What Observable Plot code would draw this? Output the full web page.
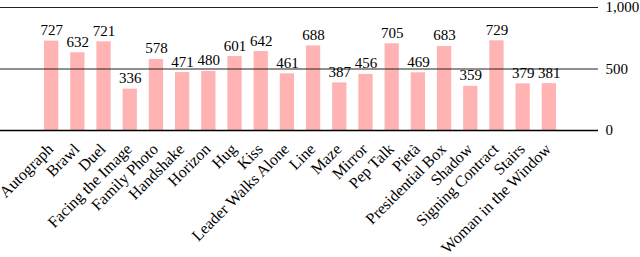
<!DOCTYPE html>
<html>
<head>
<meta charset="utf-8">
<script src="https://cdn.jsdelivr.net/npm/d3@7"></script>
<script src="https://cdn.jsdelivr.net/npm/@observablehq/plot@0.6"></script>
<style>
  html, body { margin: 0; padding: 0; background: #fff; }
</style>
</head>
<body>
<div id="chart"></div>
<script>
const categories = ["Autograph", "Brawl", "Duel", "Facing the Image", "Family Photo", "Handshake", "Horizon", "Hug", "Kiss", "Leader Walks Alone", "Line", "Maze", "Mirror", "Pep Talk", "Pietà", "Presidential Box", "Shadow", "Signing Contract", "Stairs", "Woman in the Window"];
const values = [727, 632, 721, 336, 578, 471, 480, 601, 642, 461, 688, 387, 456, 705, 469, 683, 359, 729, 379, 381];
const yTicks = [0, 500, 1000];

const data = categories.map((c, i) => ({category: c, value: values[i]}));

const chart = Plot.plot({
  width: 640,
  height: 257,
  marginTop: 7,
  marginBottom: 127,
  marginLeft: 0,
  marginRight: 42,
  style: {fontFamily: "'Liberation Serif', serif", fontSize: "15px", background: "#fff", color: "#000"},
  x: {domain: categories, range: [44, 556], paddingInner: 0.455, paddingOuter: 0, round: false, label: null},
  y: {domain: [0, 1000], label: null},
  marks: [
    Plot.barY(data, {x: "category", y: "value", fill: "#ffb3b3"}),
    Plot.ruleY(yTicks.filter(d => d !== 0), {stroke: "#222", strokeWidth: 1}),
    Plot.ruleY([0], {stroke: "#000", strokeWidth: 1.3}),
    Plot.text(data, {x: "category", y: "value", text: d => String(d.value), lineAnchor: "bottom", dy: -6, fill: "#000"}),
    Plot.axisY({anchor: "right", ticks: yTicks, tickSize: 0, tickPadding: 7, tickFormat: d3.format(","), label: null}),
    Plot.axisX({tickRotate: -45, tickSize: 0, tickPadding: 16, dx: -1, fontSize: 16, label: null})
  ]
});
document.getElementById("chart").appendChild(chart);
</script>
</body>
</html>
